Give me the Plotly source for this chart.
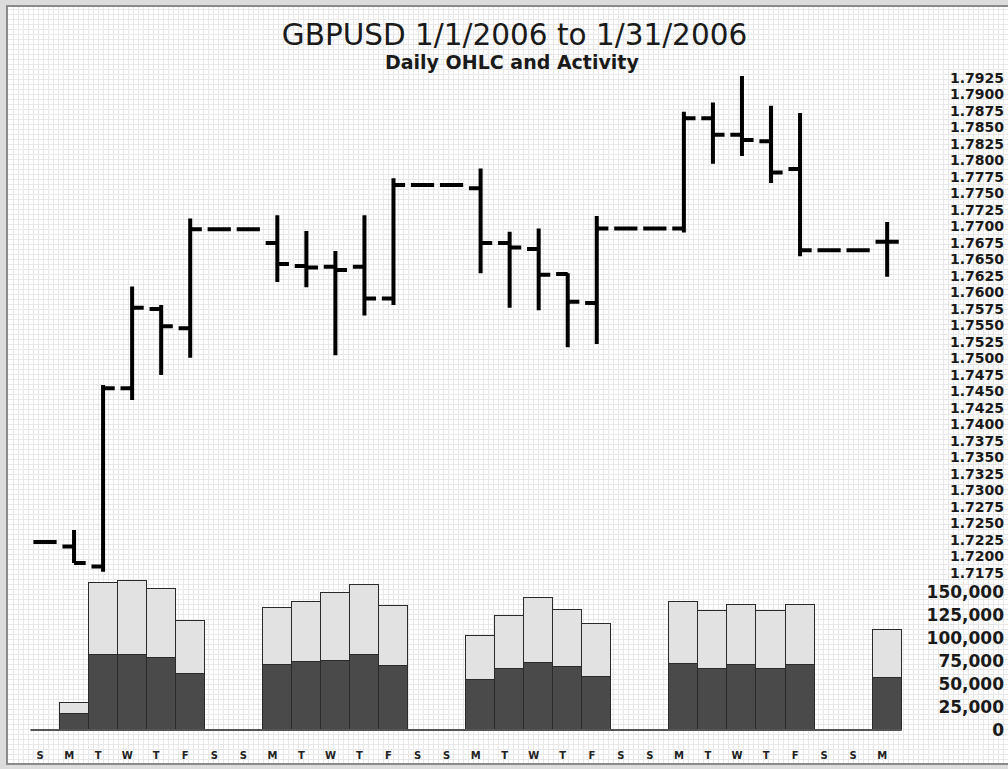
import plotly.graph_objects as go

# ---------------- data ----------------
days = list(range(1, 31))  # January 1..30, 2006
day_letters = ["S", "M", "T", "W", "T", "F", "S",
               "S", "M", "T", "W", "T", "F", "S",
               "S", "M", "T", "W", "T", "F", "S",
               "S", "M", "T", "W", "T", "F", "S",
               "S", "M"]

price_open = [1.7222, 1.7215, 1.7185, 1.7455, 1.7575, 1.7546, 1.7696,
              1.7696, 1.7675, 1.7640, 1.7639, 1.7639, 1.7591, 1.7763,
              1.7763, 1.7758, 1.7675, 1.7666, 1.7628, 1.7584, 1.7697,
              1.7697, 1.7697, 1.7864, 1.7839, 1.7829, 1.7787, 1.7664,
              1.7664, 1.7677]
price_high = [1.7222, 1.7240, 1.7460, 1.7609, 1.7581, 1.7712, 1.7696,
              1.7696, 1.7717, 1.7693, 1.7663, 1.7717, 1.7773, 1.7763,
              1.7763, 1.7788, 1.7692, 1.7697, 1.7629, 1.7716, 1.7697,
              1.7697, 1.7874, 1.7888, 1.7928, 1.7883, 1.7872, 1.7664,
              1.7664, 1.7707]
price_low = [1.7222, 1.7190, 1.7177, 1.7437, 1.7475, 1.7501, 1.7696,
             1.7696, 1.7616, 1.7608, 1.7505, 1.7565, 1.7581, 1.7763,
             1.7763, 1.7629, 1.7577, 1.7573, 1.7517, 1.7522, 1.7697,
             1.7697, 1.7691, 1.7795, 1.7807, 1.7766, 1.7655, 1.7664,
             1.7664, 1.7624]
price_close = [1.7222, 1.7190, 1.7455, 1.7577, 1.7549, 1.7696, 1.7696,
               1.7696, 1.7643, 1.7638, 1.7634, 1.7591, 1.7763, 1.7763,
               1.7763, 1.7675, 1.7668, 1.7627, 1.7586, 1.7697, 1.7697,
               1.7697, 1.7864, 1.7839, 1.7831, 1.7782, 1.7664, 1.7664,
               1.7664, 1.7677]

volume_dark = [None, 17000, 81000, 81000, 78000, 61000, None,
               None, 70500, 74000, 75500, 81000, 69500, None,
               None, 54000, 66000, 72500, 68000, 58000, None,
               None, 72000, 66000, 70500, 66000, 70500, None,
               None, 56500]
volume_light = [None, 12000, 79000, 80500, 75000, 58000, None,
                None, 62500, 65000, 73500, 77000, 65000, None,
                None, 48500, 58000, 70500, 62000, 57000, None,
                None, 67000, 63000, 65000, 63000, 65000, None,
                None, 52500]

price_ticks = [1.7175 + 0.0025 * i for i in range(31)]
price_tick_text = ["%.4f" % v for v in price_ticks]
volume_ticks = [0, 25000, 50000, 75000, 100000, 125000, 150000]
volume_tick_text = ["{:,}".format(v) for v in volume_ticks]

# ---------------- layout geometry (pixels) ----------------
W, H = 1008, 769
FRAME_L, FRAME_T, FRAME_B = 8, 7, 763
PLOT_B = 748
AXIS_POS_PX = 1004
X0, DX = 45.0, 29.04          # pixel of day 1, pixels per day
P_REF, P_REF_Y, P_PX = 1.7925, 78.0, 6600.0
V_ZERO_Y, V_PX = 730.0, 0.92 / 1000.0


def fy(py):
    return (H - py) / H


def day_at(px):
    return 1 + (px - X0) / DX


def price_at(py):
    return P_REF - (py - P_REF_Y) / P_PX


def vol_at(py):
    return (V_ZERO_Y - py) / V_PX


FONT = "DejaVu Sans"
TXT = "#1a1a1a"

fig = go.Figure()

# background grid subplot (x / y)
fig.add_trace(go.Scatter(x=[], y=[], xaxis="x", yaxis="y", showlegend=False,
                         hoverinfo="skip"))

# price OHLC
fig.add_trace(go.Ohlc(
    x=days, open=price_open, high=price_high, low=price_low, close=price_close,
    xaxis="x2", yaxis="y2", tickwidth=0.4,
    increasing=dict(line=dict(color="black", width=4)),
    decreasing=dict(line=dict(color="black", width=4)),
    showlegend=False, hoverinfo="skip"))

# volume baseline
fig.add_trace(go.Scatter(x=[days[0] - 0.5, days[-1] + 0.5], y=[0, 0],
                         mode="lines", line=dict(color="#555555", width=2),
                         xaxis="x2", yaxis="y3", showlegend=False,
                         hoverinfo="skip"))

# volume stacked bars
fig.add_trace(go.Bar(x=days, y=volume_dark, width=1.0,
                     marker=dict(color="#4a4a4a",
                                 line=dict(color="#2a2a2a", width=1.5)),
                     xaxis="x2", yaxis="y3", showlegend=False, hoverinfo="skip"))
fig.add_trace(go.Bar(x=days, y=volume_light, width=1.0,
                     marker=dict(color="#e2e2e2",
                                 line=dict(color="#2a2a2a", width=1.5)),
                     xaxis="x2", yaxis="y3", showlegend=False, hoverinfo="skip"))

grid_color = "#e8e8e8"

fig.update_layout(
    width=W, height=H,
    margin=dict(l=0, r=0, t=0, b=0),
    paper_bgcolor="#dcdcdc",
    plot_bgcolor="rgba(0,0,0,0)",
    barmode="stack", bargap=0,
    showlegend=False,
    shapes=[dict(type="rect", xref="paper", yref="paper", layer="below",
                 x0=FRAME_L / W, x1=1, y0=fy(FRAME_B), y1=fy(FRAME_T),
                 fillcolor="white", line=dict(width=0))],
    title=dict(text="GBPUSD 1/1/2006 to 1/31/2006",
               font=dict(family=FONT, size=29.5, color=TXT),
               x=514.5 / W, xanchor="center", y=fy(35), yanchor="middle"),
    annotations=[dict(text="Daily OHLC and Activity", xref="paper", yref="paper",
                      x=512 / W, y=fy(62), xanchor="center", yanchor="middle",
                      showarrow=False,
                      font=dict(family=FONT, size=19, color=TXT, weight="bold"))],
    xaxis=dict(domain=[FRAME_L / W, 1], range=[FRAME_L, W], anchor="y",
               showticklabels=False, ticks="", zeroline=False,
               showgrid=True, gridcolor=grid_color, gridwidth=1,
               tick0=FRAME_L, dtick=5,
               showline=True, mirror=True, linecolor="#8a8a8a", linewidth=2),
    yaxis=dict(domain=[fy(FRAME_B), fy(FRAME_T)], range=[H - FRAME_B, H - FRAME_T],
               anchor="x", showticklabels=False, ticks="", zeroline=False,
               showgrid=True, gridcolor=grid_color, gridwidth=1,
               tick0=0, dtick=5,
               showline=True, mirror=False, linecolor="#8a8a8a", linewidth=2),
    xaxis2=dict(domain=[FRAME_L / W, 1], range=[day_at(FRAME_L), day_at(W)],
                anchor="y2", tickmode="array",
                tickvals=[d - 0.17 for d in days], ticktext=day_letters,
                tickfont=dict(family=FONT, size=10, color="#222222", weight="bold"),
                ticks="", showgrid=False, zeroline=False, showline=False,
                rangeslider=dict(visible=False)),
    yaxis2=dict(domain=[fy(PLOT_B), fy(FRAME_T)],
                range=[price_at(PLOT_B), price_at(FRAME_T)],
                anchor="free", position=AXIS_POS_PX / W, side="left",
                tickmode="array", tickvals=price_ticks, ticktext=price_tick_text,
                tickfont=dict(family=FONT, size=14, color=TXT, weight="bold"),
                ticks="", showgrid=False, zeroline=False, showline=False),
    yaxis3=dict(overlaying="y2",
                range=[vol_at(PLOT_B), vol_at(FRAME_T)],
                anchor="free", position=AXIS_POS_PX / W, side="left",
                tickmode="array", tickvals=volume_ticks, ticktext=volume_tick_text,
                tickfont=dict(family=FONT, size=17, color=TXT, weight="bold"),
                ticks="", showgrid=False, zeroline=False, showline=False),
)

fig.write_html("out.html",
               config={"displayModeBar": False},
               post_script="document.body.style.margin='0';"
                           "document.body.style.overflow='hidden';")
